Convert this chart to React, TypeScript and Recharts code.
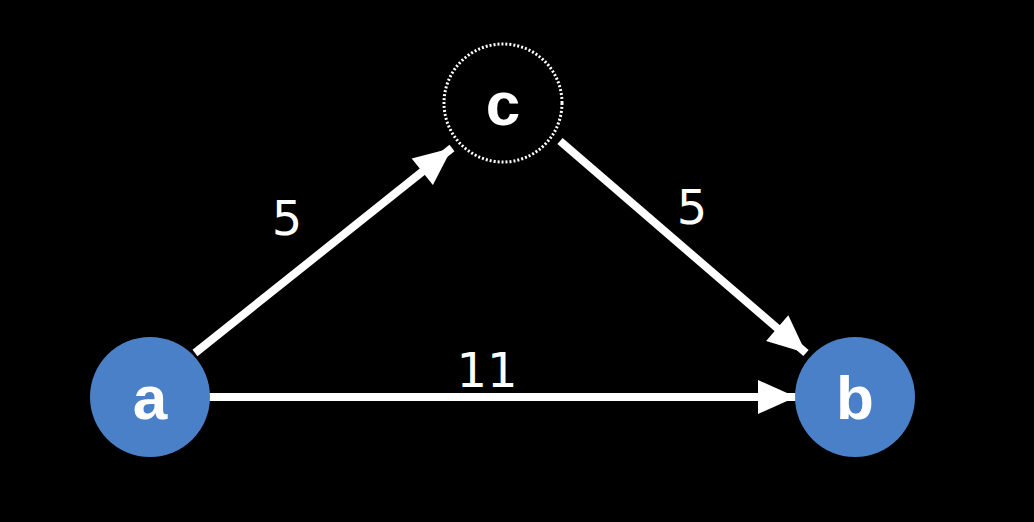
import { ScatterChart, Scatter, XAxis, YAxis } from "recharts";

const W = 1034;
const H = 522;

const nodes = [
  { x: 150, y: 397, name: "a", kind: "filled" },
  { x: 855, y: 397, name: "b", kind: "filled" },
  { x: 503, y: 103, name: "c", kind: "dotted" },
];

const edges = [
  { from: { x: 195, y: 353 }, to: { x: 452, y: 148 } },
  { from: { x: 560, y: 141 }, to: { x: 806, y: 353 } },
  { from: { x: 208, y: 397 }, to: { x: 796, y: 397 } },
];

const weights = [
  { x: 287, y: 218, label: "5" },
  { x: 692, y: 207, label: "5" },
  { x: 487, y: 370, label: "11" },
];

const arrowTips = edges.map((e) => ({
  x: e.to.x,
  y: e.to.y,
  angle: (Math.atan2(e.to.y - e.from.y, e.to.x - e.from.x) * 180) / Math.PI,
}));

const Empty = () => <g />;

const Arrow = (p: any) => (
  <polygon
    transform={`translate(${p.cx},${p.cy}) rotate(${p.payload.angle})`}
    points="0,0 -38,-17 -38,17"
    fill="#fff"
  />
);

const Node = (p: any) => {
  const n = p.payload;
  const dotted = n.kind === "dotted";
  return (
    <g>
      <circle
        cx={p.cx}
        cy={p.cy}
        r={dotted ? 59 : 60}
        fill={dotted ? "#000" : "#4a80c8"}
        stroke={dotted ? "#fff" : "none"}
        strokeWidth={3}
        strokeDasharray={dotted ? "2 2" : undefined}
      />
      <text
        x={p.cx}
        y={p.cy + 22}
        textAnchor="middle"
        fill="#fff"
        fontSize={62}
        fontWeight="bold"
        fontFamily="Liberation Sans, Arial, sans-serif"
      >
        {n.name}
      </text>
    </g>
  );
};

const Weight = (p: any) => (
  <text
    x={p.cx}
    y={p.cy + 17}
    textAnchor="middle"
    fill="#fff"
    fontSize={48}
    fontFamily="DejaVu Sans, sans-serif"
  >
    {p.payload.label}
  </text>
);

export default function App() {
  return (
    <div style={{ position: "fixed", top: 0, left: 0, width: W, height: H, background: "#000" }}>
      <ScatterChart width={W} height={H} margin={{ top: 0, right: 0, bottom: 0, left: 0 }}>
        <XAxis type="number" dataKey="x" domain={[0, W]} hide />
        <YAxis type="number" dataKey="y" domain={[0, H]} reversed hide />
        {edges.map((e, i) => (
          <Scatter
            key={i}
            data={[e.from, e.to]}
            line={{ stroke: "#fff", strokeWidth: 8 }}
            shape={Empty}
            isAnimationActive={false}
          />
        ))}
        <Scatter data={arrowTips} shape={Arrow} isAnimationActive={false} />
        <Scatter data={nodes} shape={Node} isAnimationActive={false} />
        <Scatter data={weights} shape={Weight} isAnimationActive={false} />
      </ScatterChart>
    </div>
  );
}
